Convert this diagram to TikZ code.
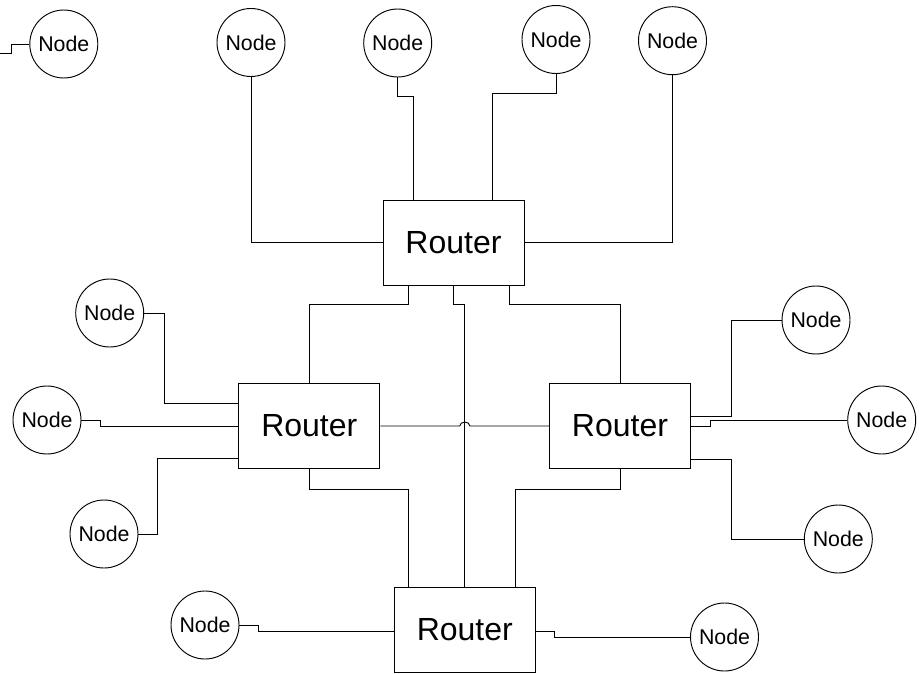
\documentclass[tikz,border=0pt]{standalone}
\usepackage{fontspec}
\setmainfont{Liberation Sans}
\usetikzlibrary{positioning, calc}

\begin{document}
\begin{tikzpicture}[
    x=0.75pt, y=-0.75pt,
    line width=0.7pt,
    router/.style={draw, rectangle, minimum width=105.75pt, minimum height=63.75pt, inner sep=0pt, font=\fontsize{24}{28}\selectfont},
    host/.style={draw, circle, minimum size=51pt, inner sep=0pt, font=\fontsize{16}{19}\selectfont}
]
\useasboundingbox (0,0) rectangle (921,674);

% Routers
\node[router] (RT) at (453.5, 242.5) {Router};
\node[router] (RL) at (309.3, 426) {Router};
\node[router] (RR) at (620, 426) {Router};
\node[router] (RB) at (464.8, 630) {Router};

% Hosts
\node[host] (N0) at (63.8, 44) {Node};
\node[host] (N1) at (251, 42.5) {Node};
\node[host] (N2) at (397.7, 43) {Node};
\node[host] (N3) at (556, 39.5) {Node};
\node[host] (N4) at (672.5, 40.7) {Node};
\node[host] (N5) at (109.7, 313) {Node};
\node[host] (N6) at (47, 420) {Node};
\node[host] (N7) at (104, 534) {Node};
\node[host] (N8) at (816, 320) {Node};
\node[host] (N9) at (881.7, 420) {Node};
\node[host] (N10) at (838.3, 539) {Node};
\node[host] (N11) at (205, 625) {Node};
\node[host] (N12) at (724.5, 637) {Node};

\coordinate (out) at (0, 53);

% Host links
\draw (N0.west) -- ++(-18,0) |- (out);
\draw (N1.south) |- (RT.west);
\draw (N2.south) -- ++(0,19) -| ($(RT.north west)+(31,0)$);
\draw (N3.south) -- ++(0,20) -| ($(RT.north west)+(110,0)$);
\draw (N4.south) |- (RT.east);

\draw (N5.east) -- ++(20,0) |- ($(RL.west)+(0,-23)$);
\draw (N6.east) -- ++(19,0) |- (RL.west);
\draw (N7.east) -- ++(19,0) |- ($(RL.west)+(0,32)$);

\draw ($(RR.east)+(0,-10)$) -- ++(40,0) |- (N8.west);
\draw (RR.east) -- ++(19,0) |- (N9.west);
\draw ($(RR.east)+(0,33)$) -- ++(40,0) |- (N10.west);

\draw (N11.east) -- ++(19,0) |- ($(RB.west)+(0,1)$);
\draw ($(RB.east)+(0,1)$) -- ++(19,0) |- (N12.west);

% Router links
\draw ($(RT.south)+(-45.5,0)$) -- ++(0,19) -| (RL.north);
\draw (RT.south) -- ++(0,19) -| (RB.north);
\draw ($(RT.south)+(56,0)$) -- ++(0,19) -| (RR.north);
\draw (RL.south) -- ++(0,20) -| ($(RB.north)+(-56.5,0)$);
\draw (RR.south) -- ++(0,20) -| ($(RB.north)+(51,0)$);

% Crossing with a hop
\draw (RL.east) -- ($(RL.east -| RB.north)+(-5,0)$)
    arc[start angle=180, end angle=0, x radius=3.75pt, y radius=3pt] -- (RR.west);

\end{tikzpicture}
\end{document}
